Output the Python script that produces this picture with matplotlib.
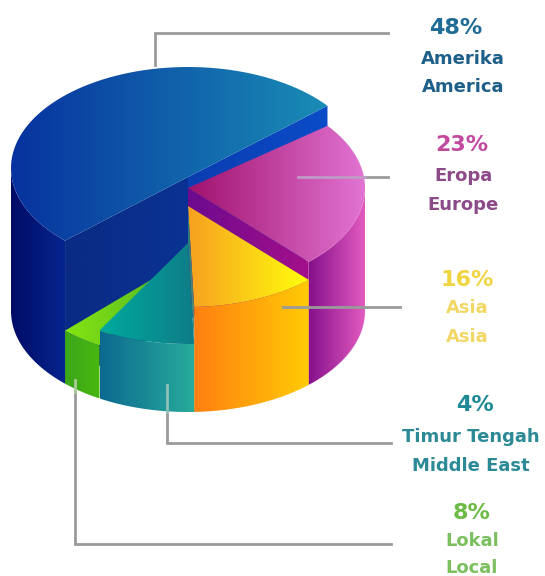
import numpy as np
import matplotlib
matplotlib.use('Agg')
import matplotlib.pyplot as plt
from matplotlib.colors import LinearSegmentedColormap
from matplotlib.patches import Polygon

# data
percents = [48, 23, 16, 4, 8]
names_id = ['Amerika', 'Eropa', 'Asia', 'Timur Tengah', 'Lokal']
names_en = ['America', 'Europe', 'Asia', 'Middle East', 'Local']
# the drawn slices are not to scale, so the spans are measured, in degrees
spans = [188, 85, 41, 32, 14]
heights = [143, 123, 105, 68, 53]

START = 226        # blue starts here and runs clockwise
CX, BASE_Y = 188, 311
RX, RY = 177, 101
BLUE_APEX = 9      # the blue cut edge runs straight, a bit below the centre

fig = plt.figure(figsize=(5.45, 5.76), dpi=100)
ax = fig.add_axes([0, 0, 1, 1])


def point(deg, y0):
    t = np.radians(deg)
    return CX + RX * np.cos(t), y0 - RY * np.sin(t)


def arc(a, b, y0, n=80):
    t = np.radians(np.linspace(a, b, n))
    return np.column_stack([CX + RX * np.cos(t), y0 - RY * np.sin(t)])


def fill(pts, c1, c2):
    # polygon with a left to right gradient
    pts = np.asarray(pts)
    cmap = LinearSegmentedColormap.from_list('g', [c1, c2])
    x0, x1 = pts[:, 0].min(), pts[:, 0].max()
    y0, y1 = pts[:, 1].min(), pts[:, 1].max()
    im = ax.imshow(np.linspace(0, 1, 256).reshape(1, -1), cmap=cmap, aspect='auto',
                   extent=[x0, x1, y1, y0], interpolation='bilinear', zorder=zo[0])
    patch = Polygon(pts, closed=True, transform=ax.transData, fc='none', ec='none')
    ax.add_patch(patch)
    im.set_clip_path(patch)
    zo[0] += 1


def wall(a, b, y0, c1, c2):
    top = arc(a, b, y0)
    bottom = arc(a, b, BASE_Y)
    fill(np.vstack([top, bottom[::-1]]), c1, c2)


zo = [1]
ends = START - np.cumsum(spans)   # clockwise end of every slice
tops = [BASE_Y - h for h in heights]

# blue, back of the pie
y = tops[0]
apex = np.array([CX, y + BLUE_APEX])
right = np.array(point(ends[0], y))
left = np.array(point(START, y))
drop = np.array([0, heights[0]])
wall(180, START, y, '#000c66', '#06258f')
fill([left, apex, apex + drop, left + drop], '#0a2a84', '#0a3393')
fill([apex, right, right + drop, apex + drop], '#0a3db0', '#0b4cc8')
fill(np.vstack([[apex], arc(START, ends[0], y)]), '#07329f', '#1a8db5')

# purple
y = tops[1]
c = np.array([CX, y])
p = np.array(point(ends[1], y))
drop = np.array([0, heights[1]])
fill([c, p, p + drop, c + drop], '#6c0a8e', '#a5108a')
wall(ends[1], 0, y, '#86108c', '#e45cc0')
fill(np.vstack([[c], arc(ends[0], ends[1], y)]), '#a0126e', '#e274d2')

# yellow and orange
y = tops[2]
wall(ends[2], ends[1], y, '#ff7f12', '#ffcb05')
fill(np.vstack([[(CX, y)], arc(ends[1], ends[2], y)]), '#f7a021', '#ffff0c')

# green goes under the teal
y = tops[4]
wall(ends[4], ends[3], y, '#3ca61a', '#48b810')
fill(np.vstack([[(CX, y)], arc(ends[3], ends[4], y)]), '#84e612', '#4fae28')

# thin side of the yellow slice, seen between yellow and teal
edge = np.array(point(ends[2], tops[2]))
fill([(CX, tops[2]), edge, edge + [0, tops[3] - tops[2]], (CX, tops[3])], '#1f7f80', '#5f8a70')

# teal
y = tops[3]
wall(ends[3], ends[2], y, '#0c6a90', '#28ac9b')
fill(np.vstack([[(CX, y)], arc(ends[2], ends[3], y)]), '#00aa9c', '#0f7c88')

# leader lines, paler where they run over the pie
GREY = '#9a9a9a'
zl = zo[0]
ax.plot([155, 155, 388], [65, 33, 33], color=GREY, lw=2, zorder=zl, solid_joinstyle='miter')
ax.plot([365, 388], [177, 177], color=GREY, lw=2, zorder=zl)
ax.plot([298, 365], [177, 177], color='#c09ac4', lw=2, zorder=zl)
ax.plot([283, 400], [307, 307], color=GREY, lw=2, zorder=zl)
ax.plot([167, 167, 391], [412, 443, 443], color=GREY, lw=2, zorder=zl, solid_joinstyle='miter')
ax.plot([167, 167], [385, 412], color='#8fc0b8', lw=2, zorder=zl)
ax.plot([75, 75, 391], [392, 544, 544], color=GREY, lw=2, zorder=zl, solid_joinstyle='miter')
ax.plot([75, 75], [380, 392], color='#a8cc98', lw=2, zorder=zl)

# labels
label_x = [(456, 463), (462, 463), (467, 467), (475, 471), (472, 472)]
label_y = [(28, 59, 87), (145, 176, 205), (280, 308, 337), (405, 437, 466), (513, 541, 568)]
pct_col = ['#1f6c96', '#c24a9e', '#f0d540', '#1f8a96', '#6dbb45']
name_col = ['#1d5f88', '#8b4a88', '#f2d765', '#2b8a96', '#7bbf5f']

for i in range(len(percents)):
    ax.text(label_x[i][0], label_y[i][0], '%d%%' % percents[i], color=pct_col[i], fontsize=16,
            fontweight='bold', family='DejaVu Sans', ha='center', va='center', zorder=zl)
    ax.text(label_x[i][1], label_y[i][1], names_id[i], color=name_col[i], fontsize=13,
            fontweight='bold', family='DejaVu Sans', ha='center', va='center', zorder=zl)
    ax.text(label_x[i][1], label_y[i][2], names_en[i], color=name_col[i], fontsize=13,
            fontweight='bold', family='DejaVu Sans', ha='center', va='center', zorder=zl)

ax.set_xlim(0, 545)
ax.set_ylim(576, 0)
ax.axis('off')
fig.savefig('out.png', dpi=100, facecolor='white')
